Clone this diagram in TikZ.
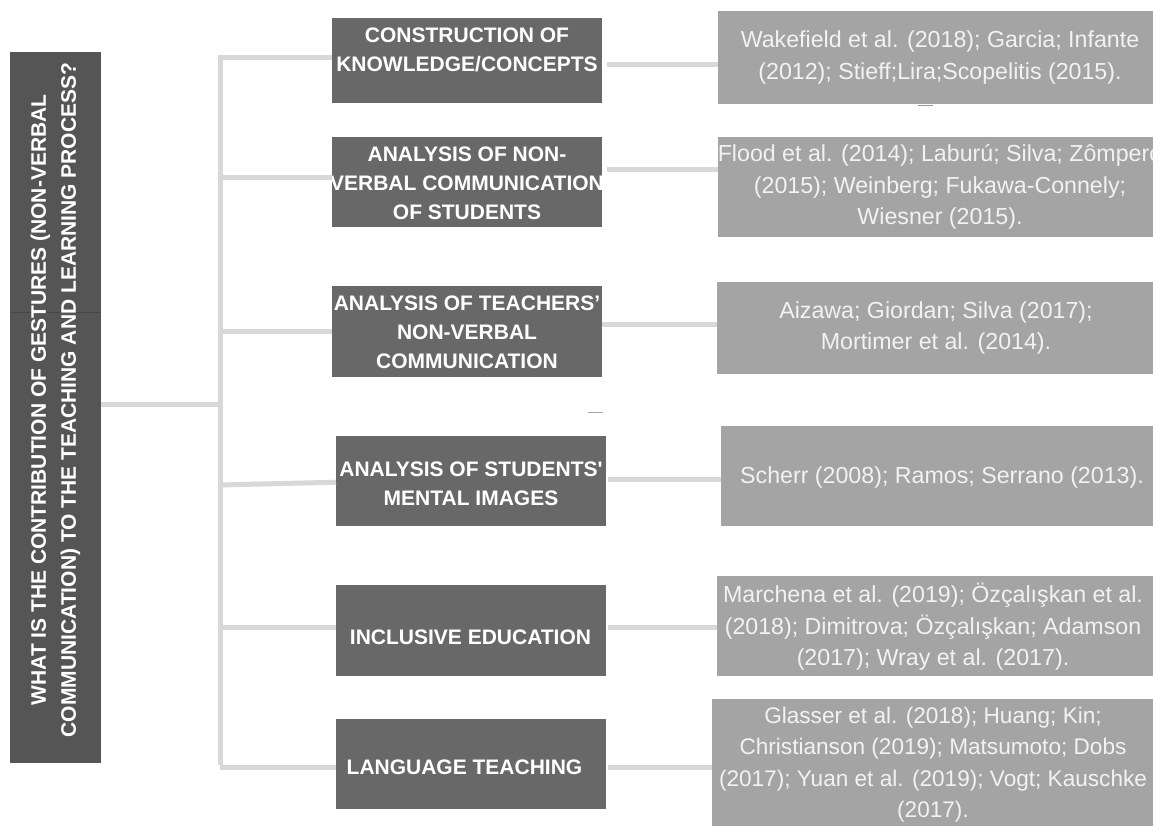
\documentclass[tikz,border=0pt]{standalone}
\usepackage{fontspec}
\setmainfont{Liberation Sans}
\usetikzlibrary{calc}
\definecolor{leftgray}{HTML}{555555}
\definecolor{midgray}{HTML}{686868}
\definecolor{refgray}{HTML}{A4A4A4}
\definecolor{linegray}{HTML}{D8D8D8}
\definecolor{reftext}{HTML}{F2F2F2}
\tikzset{
  box/.style={inner sep=0pt, anchor=north west, draw=none},
  leftbox/.style={box, fill=leftgray},
  midbox/.style={box, fill=midgray},
  refbox/.style={box, fill=refgray},
  midtext/.style={text=white, font=\fontsize{21}{29}\selectfont\bfseries, align=center, inner sep=0pt},
  lefttext/.style={text=white, font=\fontsize{21}{30}\selectfont\bfseries, align=center, inner sep=0pt, rotate=90},
  reftextstyle/.style={text=reftext, font=\fontsize{23.2}{31.5}\selectfont, align=center, inner sep=0pt},
  reftextsmall/.style={reftextstyle, font=\fontsize{22.6}{31.5}\selectfont},
  conn/.style={draw=linegray, line width=5pt}
}
\begin{document}
\begin{tikzpicture}[x=1pt,y=-1pt]
\useasboundingbox (0,0) rectangle (1153,825);
\clip (0,0) rectangle (1153,825);

% left question box
\node[leftbox, minimum width=91pt, minimum height=711pt] (q) at (10,52) {};
\draw[leftgray!85!black, line width=0.8pt] (q.west |- 0,312) -- (q.east |- 0,312);
\node[lefttext] (qt) at (55.5,400) {WHAT IS THE CONTRIBUTION OF GESTURES (NON-VERBAL\\COMMUNICATION) TO THE TEACHING AND LEARNING PROCESS?};

% middle boxes
\node[midbox, minimum width=270pt, minimum height=85pt] (m1) at (332,18) {};
\node[midbox, minimum width=270pt, minimum height=90pt] (m2) at (332,137) {};
\node[midbox, minimum width=270pt, minimum height=91pt] (m3) at (332,286) {};
\node[midbox, minimum width=270pt, minimum height=90pt] (m4) at (336,436) {};
\node[midbox, minimum width=270pt, minimum height=91pt] (m5) at (336,585) {};
\node[midbox, minimum width=270pt, minimum height=90pt] (m6) at (336,719) {};

\node[midtext] (m1t) at (467,50) {CONSTRUCTION OF\\KNOWLEDGE/CONCEPTS};
\node[midtext] (m2t) at (467,183) {ANALYSIS OF NON-\\VERBAL COMMUNICATION\\OF STUDENTS};
\node[midtext] (m3t) at (467,332) {ANALYSIS OF TEACHERS’\\NON-VERBAL\\COMMUNICATION};
\node[midtext] (m4t) at (471,484) {ANALYSIS OF STUDENTS\textquotesingle\\MENTAL IMAGES};
\node[midtext] (m5t) at (470.5,637) {INCLUSIVE EDUCATION};
\node[midtext] (m6t) at (464.5,767) {LANGUAGE TEACHING};

% reference boxes
\node[refbox, minimum width=447pt, minimum height=93pt] (r1) at (718,11) {};
\node[refbox, minimum width=447pt, minimum height=100pt] (r2) at (718,137) {};
\node[refbox, minimum width=448pt, minimum height=92pt] (r3) at (717,282) {};
\node[refbox, minimum width=444pt, minimum height=100pt] (r4) at (721,426) {};
\node[refbox, minimum width=448pt, minimum height=100pt] (r5) at (717,576) {};
\node[refbox, minimum width=453pt, minimum height=141pt] (r6) at (712,699) {};

\node[reftextstyle] (r1t) at (940,57.5) {Wakefield et al. (2018); Garcia; Infante\\(2012); Stieff;Lira;Scopelitis (2015).};
\node[reftextstyle] (r2t) at (940,187) {Flood et al. (2014); Laburú; Silva; Zômpero\\(2015); Weinberg; Fukawa-Connely;\\Wiesner (2015).};
\node[reftextstyle] (r3t) at (936,328) {Aizawa; Giordan; Silva (2017);\\Mortimer et al. (2014).};
\node[reftextstyle] (r4t) at (942,477) {Scherr (2008); Ramos; Serrano (2013).};
\node[reftextstyle] (r5t) at (933,627) {Marchena et al. (2019); Özçalışkan et al.\\(2018); Dimitrova; Özçalışkan; Adamson\\(2017); Wray et al. (2017).};
\node[reftextsmall] (r6t) at (933,764.5) {Glasser et al. (2018); Huang; Kin;\\Christianson (2019); Matsumoto; Dobs\\(2017); Yuan et al. (2019); Vogt; Kauschke\\(2017).};

% trunk coordinates
\coordinate (ttop) at (220,57);
\coordinate (tmid) at (220,404);
\coordinate (tb2) at (220,177);
\coordinate (tb3) at (220,331);
\coordinate (tb4) at (220,485);
\coordinate (tb5) at (220,627);
\coordinate (tbot) at (220,765);

% connectors: question to trunk
\draw[conn] (q.east |- tmid) -- (tmid);
\draw[conn] (ttop) -- (tbot);
% trunk to topics
\draw[conn] ([xshift=-2.5pt]ttop) -- (m1.west |- ttop);
\draw[conn] (tb2) -- (m2.west |- tb2);
\draw[conn] (tb3) -- (m3.west |- tb3);
\draw[conn] (tb4) -- ([yshift=-1pt]m4.west);
\draw[conn] (tb5) -- (m5.west |- tb5);
\draw[conn] ([yshift=-2pt]tbot) -- ([yshift=-2pt]m6.west |- tbot);

% topics to references
\coordinate (c1) at (0,64);
\coordinate (c2) at (0,169);
\coordinate (c3) at (0,324);
\coordinate (c4) at (0,479);
\coordinate (c5) at (0,627);
\coordinate (c6) at (0,767);
\draw[conn, shorten <=5pt] (m1.east |- c1) -- (r1.west |- c1);
\draw[conn, shorten <=5pt] (m2.east |- c2) -- (r2.west |- c2);
\draw[conn] (m3.east |- c3) -- (r3.west |- c3);
\draw[conn, shorten <=2pt] (m4.east |- c4) -- (r4.west |- c4);
\draw[conn, shorten <=2pt] (m5.east |- c5) -- (r5.west |- c5);
\draw[conn, shorten <=2pt] (m6.east |- c6) -- (r6.west |- c6);

% small stray marks
\draw[gray!70, line width=1pt] (588,412) -- (603,412);
\draw[gray!80, line width=1.5pt] (918,105.5) -- (933,105.5);
\end{tikzpicture}
\end{document}
